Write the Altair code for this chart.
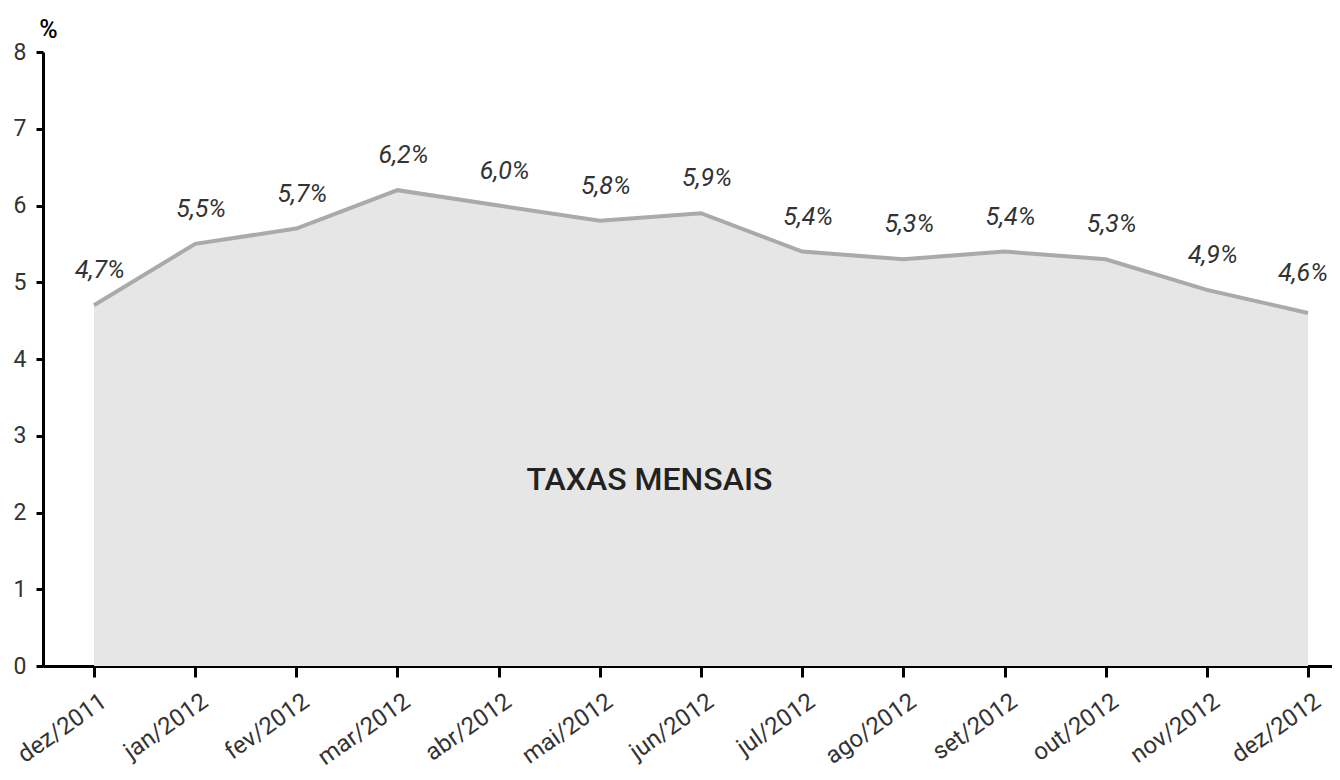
import altair as alt
import pandas as pd

months = ["dez/2011", "jan/2012", "fev/2012", "mar/2012", "abr/2012", "mai/2012",
          "jun/2012", "jul/2012", "ago/2012", "set/2012", "out/2012", "nov/2012", "dez/2012"]
rates = [4.7, 5.5, 5.7, 6.2, 6.0, 5.8, 5.9, 5.4, 5.3, 5.4, 5.3, 4.9, 4.6]
rate_labels = ["4,7%", "5,5%", "5,7%", "6,2%", "6,0%", "5,8%", "5,9%", "5,4%",
               "5,3%", "5,4%", "5,3%", "4,9%", "4,6%"]
center_text = "TAXAS MENSAIS"

df = pd.DataFrame({"i": list(range(len(months))), "month": months,
                   "rate": rates, "label": rate_labels})
last_i = len(months) - 1

FONT = "Roboto"
label_expr = "[" + ",".join("'" + m + "'" for m in months) + "][datum.value]"

xscale = alt.Scale(domain=[-0.504, 12.237], nice=False, zero=False)
yscale = alt.Scale(domain=[0, 8], nice=False)

xaxis = alt.Axis(values=list(range(len(months))), labelExpr=label_expr, title=None,
                 labelAngle=325, labelAlign="right", labelBaseline="top",
                 labelPadding=12, labelOffset=3, labelFontSize=24, labelColor="#333333",
                 labelFont=FONT,
                 domainColor="black", domainWidth=3, tickColor="black", tickWidth=3,
                 tickSize=11, grid=False, labelOverlap=False, labelBound=False)
yaxis = alt.Axis(values=list(range(0, 9)), format="d", title="%", titleAngle=0,
                 titleX=5, titleY=-10,
                 titleAlign="center", titleBaseline="bottom", titleFontSize=25,
                 titleFont=FONT, titleFontWeight=500, titleColor="black",
                 labelFontSize=23, labelColor="#333333", labelFont=FONT, labelPadding=10,
                 domainColor="black", domainWidth=3, tickColor="black", tickWidth=3,
                 tickSize=7, grid=False)

base = alt.Chart(df)
area = base.mark_area(color="#e6e6e6", opacity=1).encode(
    x=alt.X("i:Q", scale=xscale, axis=xaxis),
    y=alt.Y("rate:Q", scale=yscale, axis=yaxis),
)
line = base.mark_line(color="#aaaaaa", strokeWidth=4).encode(
    x=alt.X("i:Q", scale=xscale), y=alt.Y("rate:Q", scale=yscale))
text_enc = dict(x=alt.X("i:Q", scale=xscale), y=alt.Y("rate:Q", scale=yscale),
                text="label:N")
texts = base.transform_filter(alt.datum.i < last_i).mark_text(
    font=FONT, fontSize=25, fontStyle="italic", color="#333333", dy=-35, dx=6
).encode(**text_enc)
text_last = base.transform_filter(alt.datum.i == last_i).mark_text(
    font=FONT, fontSize=25, fontStyle="italic", color="#333333", dy=-40, dx=-5
).encode(**text_enc)
center = alt.Chart(pd.DataFrame({"x": [5.49], "y": [2.42], "t": [center_text]})).mark_text(
    font=FONT, fontSize=32, fontWeight=500, color="#222222").encode(
    x=alt.X("x:Q", scale=xscale), y=alt.Y("y:Q", scale=yscale), text="t:N")

chart = alt.layer(area, line, texts, text_last, center).properties(
    width=1289, height=614,
    autosize=alt.AutoSizeParams(type="none"),
    padding={"left": 35, "top": 44, "right": 0, "bottom": 112},
    background="white",
).configure_view(stroke=None)

chart.save("out.html", embed_options={"renderer": "svg", "actions": False})
